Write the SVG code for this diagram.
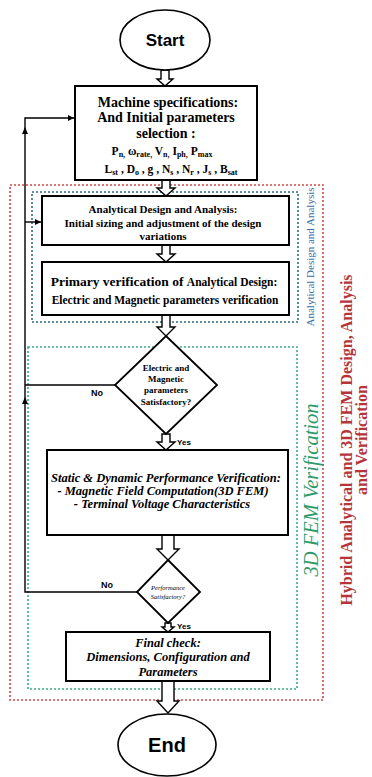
<svg xmlns="http://www.w3.org/2000/svg" width="372" height="777" viewBox="0 0 372 777">
<defs>
<style>
.box{fill:#fff;stroke:#000;stroke-width:2}
.ell{fill:#fff;stroke:#000;stroke-width:1.6}
.arr{fill:#fff;stroke:#000;stroke-width:1.4;stroke-linejoin:miter}
.ln{fill:none;stroke:#000;stroke-width:1.4}
.dr{fill:none;stroke:#d0494a;stroke-width:1.6;stroke-dasharray:2 2}
.db{fill:none;stroke:#2e6a86;stroke-width:1.6;stroke-dasharray:2 2}
.dg{fill:none;stroke:#3cae86;stroke-width:1.6;stroke-dasharray:2 2}
.sb{font-family:"Liberation Serif","Times New Roman",serif;font-weight:bold;fill:#000;text-anchor:middle}
.sbi{font-family:"Liberation Serif","Times New Roman",serif;font-weight:bold;font-style:italic;fill:#000;text-anchor:middle}
.sans{font-family:"Liberation Sans",Arial,sans-serif;font-weight:bold;fill:#000;text-anchor:middle}
</style>
<marker id="ah" viewBox="0 0 10 10" refX="10" refY="5" markerWidth="6" markerHeight="6" orient="auto" markerUnits="userSpaceOnUse">
<path d="M0,0 L10,5 L0,10 z" fill="#000"/>
</marker>
</defs>
<rect width="372" height="777" fill="#fff"/>

<g id="regions">
<rect class="dr" x="10" y="185" width="313" height="515"/>
<rect class="db" x="32" y="192" width="266" height="130"/>
<rect class="dg" x="28" y="347" width="269" height="342"/>
<text transform="translate(314,257) rotate(-90)" font-family="'Liberation Serif','Times New Roman',serif" font-size="11" fill="#3b6ea5" text-anchor="middle">Analytical Design and Analysis</text>
<text transform="translate(318,490) rotate(-90)" font-family="'Liberation Serif','Times New Roman',serif" font-size="20.5" font-style="italic" fill="#2e9a6a" text-anchor="middle">3D FEM Verification</text>
<text transform="translate(352,440) rotate(-90)" font-family="'Liberation Serif','Times New Roman',serif" font-size="16" font-weight="bold" fill="#b5343a" text-anchor="middle">Hybrid Analytical and 3D FEM Design, Analysis</text>
<text transform="translate(367,440) rotate(-90)" font-family="'Liberation Serif','Times New Roman',serif" font-size="16" font-weight="bold" fill="#b5343a" text-anchor="middle">and Verification</text>
</g>

<g id="connectors">
<polygon class="arr" points="161,70 161,79 157,79 165,86 173,79 169,79 169,70"/>
<polygon class="arr" points="162,180 162,188 157,188 166,196 175,188 170,188 170,180"/>
<polygon class="arr" points="162,245 162,254 157,254 166,262 175,254 170,254 170,245"/>
<polygon class="arr" points="162,315 162,327 157,327 166,336 175,327 170,327 170,315"/>
<polygon class="arr" points="162,434 162,442 157,442 166,450 175,442 170,442 170,434"/>
<polygon class="arr" points="162,535 162,549 157,549 168,560 179,549 174,549 174,535"/>
<polygon class="arr" points="165,623 165,627 162,627 168,632 174,627 171,627 171,623"/>
<polygon class="arr" points="162,681 162,701 157,701 168,713 179,701 174,701 174,681"/>
<polyline class="ln" points="115,385 25,385"/>
<polyline class="ln" points="137,592 25,592 25,118 74,118" marker-end="url(#ah)"/>
<line class="ln" x1="25" y1="222" x2="41" y2="222" marker-end="url(#ah)"/>
<path d="M22,134 L25,127 L28,134 z" fill="#000"/>
<path d="M22,404 L25,397 L28,404 z" fill="#000"/>
<text class="sans" x="97" y="396" font-size="9">No</text>
<text class="sans" x="107" y="588" font-size="9">No</text>
<text class="sans" x="184" y="445" font-size="8">Yes</text>
<text class="sans" x="184" y="629" font-size="8">Yes</text>
</g>

<g id="start">
<ellipse class="ell" cx="165" cy="40" rx="45" ry="30"/>
<text class="sans" x="165" y="46" font-size="17">Start</text>
</g>

<g id="machine">
<rect class="box" x="75" y="86" width="182" height="94"/>
<text class="sb" x="168" y="107" font-size="14">Machine specifications:</text>
<text class="sb" x="166" y="122" font-size="14">And Initial parameters</text>
<text class="sb" x="166" y="138" font-size="14">selection :</text>
<text class="sb" x="162" y="155" font-size="11.5">P<tspan font-size="8" dy="2">n,</tspan><tspan dy="-2"> ω</tspan><tspan font-size="8" dy="2">rate,</tspan><tspan dy="-2"> V</tspan><tspan font-size="8" dy="2">n,</tspan><tspan dy="-2"> I</tspan><tspan font-size="8" dy="2">ph,</tspan><tspan dy="-2"> P</tspan><tspan font-size="8" dy="2">max</tspan></text>
<text class="sb" x="171" y="173" font-size="11.5">L<tspan font-size="8" dy="2">st</tspan><tspan dy="-2"> , D</tspan><tspan font-size="8" dy="2">o</tspan><tspan dy="-2"> , g , N</tspan><tspan font-size="8" dy="2">s</tspan><tspan dy="-2"> , N</tspan><tspan font-size="8" dy="2">r</tspan><tspan dy="-2"> , J</tspan><tspan font-size="8" dy="2">s</tspan><tspan dy="-2"> , B</tspan><tspan font-size="8" dy="2">sat</tspan></text>
</g>

<g id="analytical">
<rect class="box" x="42" y="196" width="247" height="49"/>
<text class="sb" x="163" y="213" font-size="11">Analytical Design and Analysis:</text>
<text class="sb" x="163" y="227" font-size="11">Initial sizing and adjustment of the design</text>
<text class="sb" x="163" y="240" font-size="11">variations</text>
</g>

<g id="primary">
<rect class="box" x="42" y="262" width="247" height="53"/>
<text class="sb" x="164" y="286" font-size="13.5">Primary verification of <tspan font-size="11.5">Analytical Design:</tspan></text>
<text class="sb" x="165" y="304" font-size="11.5">Electric and Magnetic parameters verification</text>
</g>

<g id="decision1">
<polygon points="166,336 217,385 166,434 115,385" fill="#fff" stroke="#000" stroke-width="1.8"/>
<text class="sb" x="166" y="371" font-size="9">Electric and</text>
<text class="sb" x="166" y="382" font-size="9">Magnetic</text>
<text class="sb" x="166" y="393" font-size="9">parameters</text>
<text class="sb" x="166" y="405" font-size="9">Satisfactory?</text>
</g>

<g id="static">
<rect class="box" x="47" y="450" width="241" height="85"/>
<text class="sbi" x="166" y="482" font-size="12.5">Static &amp; Dynamic Performance Verification:</text>
<text class="sbi" x="163" y="495" font-size="12.5">- Magnetic Field Computation(3D FEM)</text>
<text class="sbi" x="162" y="508" font-size="12.5">- Terminal Voltage Characteristics</text>
</g>

<g id="decision2">
<polygon points="168,560 200,592 168,623 137,592" fill="#fff" stroke="#000" stroke-width="1.8"/>
<text x="168" y="590" font-family="'Liberation Serif','Times New Roman',serif" font-style="italic" font-size="6.5" text-anchor="middle">Performance</text>
<text x="168" y="599" font-family="'Liberation Serif','Times New Roman',serif" font-style="italic" font-size="6.5" text-anchor="middle">Satisfactory?</text>
</g>

<g id="final">
<rect class="box" x="66" y="632" width="204" height="49"/>
<text class="sbi" x="168" y="647" font-size="12.5">Final check:</text>
<text class="sbi" x="168" y="661" font-size="12.5">Dimensions, Configuration and</text>
<text class="sbi" x="168" y="676" font-size="12.5">Parameters</text>
</g>

<g id="end">
<ellipse class="ell" cx="167" cy="745" rx="49" ry="31"/>
<text class="sans" x="167" y="752" font-size="20">End</text>
</g>
</svg>
